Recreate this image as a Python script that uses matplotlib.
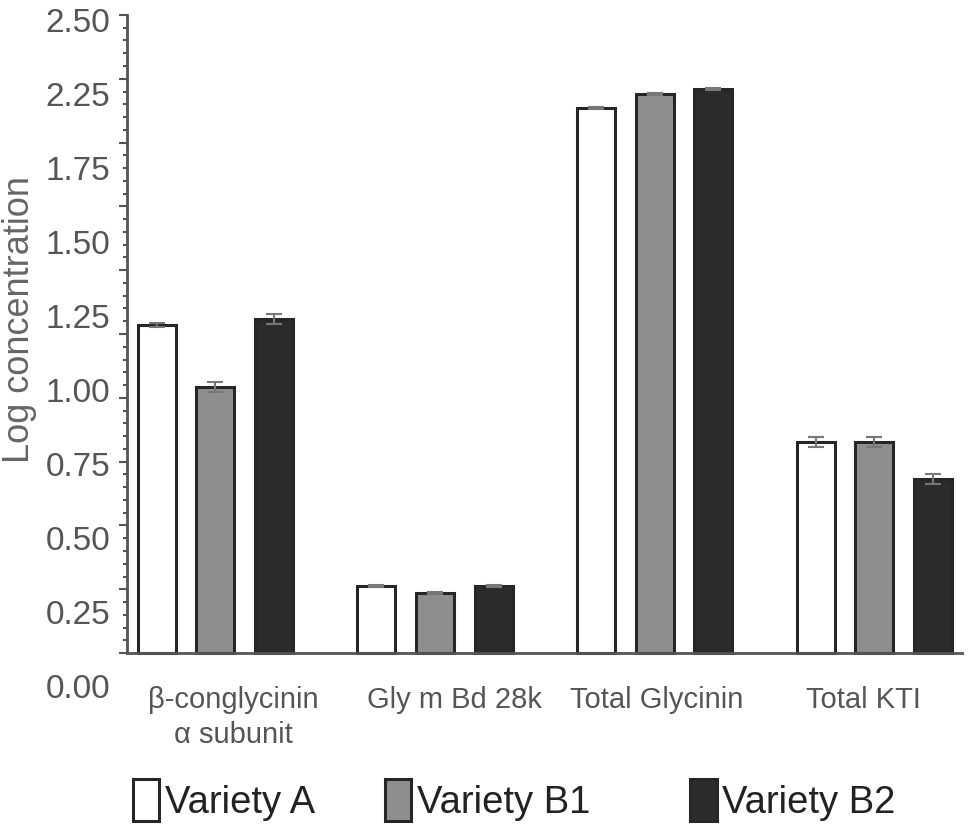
import matplotlib.pyplot as plt
import numpy as np

plt.rcParams['font.family'] = ['Liberation Sans', 'DejaVu Sans']

# Werte
categories = ['β-conglycinin\nα subunit', 'Gly m Bd 28k', 'Total Glycinin', 'Total KTI']
varieties = ['Variety A', 'Variety B1', 'Variety B2']
variety_a = [1.285, 0.263, 2.136, 0.827]
variety_b1 = [1.042, 0.235, 2.190, 0.827]
variety_b2 = [1.309, 0.263, 2.210, 0.682]
err_a = [0.008, 0.005, 0.004, 0.02]
err_b1 = [0.02, 0.005, 0.004, 0.02]
err_b2 = [0.02, 0.005, 0.004, 0.02]
y_tick_labels = ['0.00', '0.25', '0.50', '0.75', '1.00', '1.25', '1.50', '1.75', '2.25', '2.50']

werte = [variety_a, variety_b1, variety_b2]
fehler = [err_a, err_b1, err_b2]
farben = ['white', '#8e8e8e', '#2b2b2b']
offsets = [-0.267, 0, 0.267]
breite = 0.173
grau = '#555555'

fig = plt.figure(figsize=(9.69, 8.30), dpi=100)
ax = fig.add_axes([0.131, 0.167, 0.862, 0.815])

x = np.arange(len(categories))
for i in range(len(varieties)):
    ax.bar(x + offsets[i], werte[i], breite, color=farben[i], edgecolor='#262626',
           linewidth=2.2, yerr=fehler[i], label=varieties[i],
           error_kw=dict(ecolor='#777777', capsize=6, elinewidth=1.5, capthick=1.5))

ax.set_xlim(-0.403, 3.40)
ax.set_ylim(-0.15, 2.5)

# Achsen wie im Original
for s in ['top', 'right']:
    ax.spines[s].set_visible(False)
ax.spines['bottom'].set_position(('data', 0))
ax.spines['left'].set_bounds(0, 2.5)
ax.spines['left'].set_color(grau)
ax.spines['bottom'].set_color(grau)
ax.spines['left'].set_linewidth(2)
ax.spines['bottom'].set_linewidth(2)

# Beschriftungen sind im Original gleichmäßig verteilt (2.00 fehlt)
ax.set_yticks(np.linspace(-0.13, 2.48, len(y_tick_labels)))
ax.set_yticklabels(y_tick_labels, fontsize=24, color=grau)
ax.tick_params(axis='y', length=0, pad=12)

ax.set_xticks([0.08, 1.09, 2.01, 2.95])
ax.set_xticklabels(categories, fontsize=21, color=grau, linespacing=1.3)
ax.tick_params(axis='x', length=0, pad=24)

ax.set_ylabel('Log concentration', fontsize=26, color='#666666')
ax.yaxis.set_label_coords(-0.108, 0.55)

# Teilstriche auf zweiter Achse
ax2 = ax.twinx()
ax2.set_ylim(ax.get_ylim())
ax2.yaxis.tick_left()
ax2.set_yticks(np.arange(0, 2.51, 0.25))
ax2.set_yticks(np.arange(0, 2.51, 0.05), minor=True)
ax2.set_yticklabels([])
ax2.tick_params(axis='y', which='major', length=6, width=1.5, color=grau)
ax2.tick_params(axis='y', which='minor', length=3, width=1.5, color=grau)
for s in ax2.spines.values():
    s.set_visible(False)

# Legende unten
handles, labels = ax.get_legend_handles_labels()
legend_x = [0.137, 0.397, 0.712]
for i in range(len(varieties)):
    leg = fig.legend([handles[i]], [labels[i]], loc='center left',
                     bbox_to_anchor=(legend_x[i], 0.036), frameon=False,
                     prop={'size': 27.5},
                     handlelength=0.7, handleheight=1.3, handletextpad=0.15,
                     borderaxespad=0, borderpad=0)
    for t in leg.get_texts():
        t.set_color('#222222')

plt.savefig('out.png', dpi=100)
